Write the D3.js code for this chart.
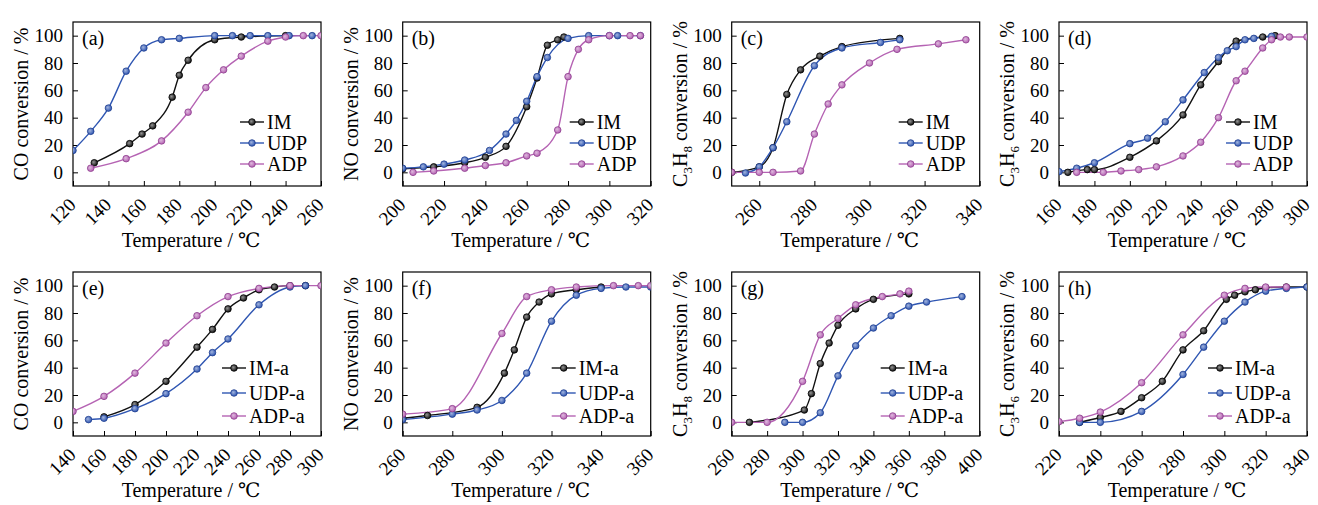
<!DOCTYPE html>
<html><head><meta charset="utf-8">
<script src="https://cdn.jsdelivr.net/npm/d3@7"></script>
<style>
body{margin:0;background:#fff}
svg{display:block}
svg text{font-family:"Liberation Serif","Times New Roman",Tinos,"DejaVu Serif",serif !important;fill:#000}
</style>
</head><body><svg id="c" width="1318" height="505" font-family="Liberation Serif, Times New Roman, DejaVu Serif, serif"></svg>
<script>
// ---------- data (temperature °C, conversion %) ----------
const a_IM  = [[132,7],[152,21],[159,28],[165,34],[176,55],[180,71],[185,82],[200,97],[215,99],[240,100]];
const a_UDP = [[120,16],[130,30],[140,47],[150,74],[160,91],[170,97],[180,98],[200,100],[210,100],[220,100],[230,100],[242,100],[255,100]];
const a_ADP = [[130,3],[150,10],[170,23],[185,44],[195,62],[205,75],[215,85],[230,96],[240,99],[250,100],[260,100]];

const b_IM  = [[200,2.5],[215,4],[230,7],[240,11],[250,19],[260,48],[265,69],[270,93],[275,97],[278,99]];
const b_UDP = [[200,3],[210,4],[220,6],[230,9],[242,16],[250,28],[255,38],[260,52],[265,70],[270,84],[280,98],[290,100],[300,100],[304,100],[315,100]];
const b_ADP = [[205,0],[215,1],[230,3],[240,5],[250,7],[260,12],[265,14],[275,31],[280,70],[285,90],[290,97],[300,100],[310,100],[315,100]];

const c_IM  = [[250,0],[260,4],[265,18],[270,57],[275,75],[282,85],[290,92],[311,98]];
const c_UDP = [[255,-0.5],[260,4],[265,18],[270,37],[280,78],[290,91],[304,95],[311,97]];
const c_ADP = [[250,0],[260,0],[265,0],[275,1],[280,28],[285,50],[290,64],[300,80],[310,90],[325,94],[335,97]];

const d_IM  = [[165,0],[176,2],[180,2],[200,11],[215,23],[230,42],[240,64],[250,81],[260,96],[275,99],[282,100]];
const d_UDP = [[160,0.5],[170,3],[180,7],[200,21],[210,25],[220,37],[230,53],[242,73],[250,84],[255,89],[260,92],[265,97],[270,98],[280,99.5]];
const d_ADP = [[170,0],[185,0],[195,1],[205,2],[215,4],[230,12],[240,22],[250,40],[260,67],[265,74],[275,91],[280,97],[285,99],[290,99],[300,99]];

const e_IM  = [[160,4],[180,13],[200,30],[220,55],[230,68],[240,83],[250,91],[260,97],[270,99],[280,100],[290,100]];
const e_UDP = [[150,2],[160,3],[180,10],[200,21],[220,39],[230,51],[240,61],[260,86],[280,99],[290,100]];
const e_ADP = [[140,8],[160,19],[180,36],[200,58],[220,78],[240,92],[260,98],[280,100],[300,100]];

const f_IM  = [[260,3],[270,5],[290,11],[301,36],[305,53],[310,77],[315,88],[320,94],[330,97],[340,99]];
const f_UDP = [[260,2],[280,6],[290,9],[300,16],[310,36],[320,74],[330,93],[340,98],[350,99],[360,99]];
const f_ADP = [[260,6],[280,10],[300,65],[310,92],[320,97],[330,99],[345,100],[355,100],[360,100]];

const g_IM  = [[270,0],[301,9],[305,21],[310,43],[315,58],[320,71],[330,83],[340,90],[360,94]];
const g_UDP = [[290,0],[300,0],[310,7],[320,34],[330,56],[340,69],[350,78],[360,85],[370,88],[390,92]];
const g_ADP = [[260,0],[280,0],[300,30],[310,64],[320,76],[330,86],[345,92],[355,94],[360,96]];

const h_IM  = [[230,0],[240,3.5],[250,8],[260,18],[270,30],[280,53],[290,67],[301,90],[305,93],[310,95.5],[315,97],[320,98.5],[330,99],[340,99]];
const h_UDP = [[230,0],[240,0],[260,8],[280,35],[290,55],[300,74],[310,88],[320,96],[330,98],[340,99]];
const h_ADP = [[220,0.5],[230,3],[240,7.5],[260,29],[280,64],[300,93],[310,98],[320,99],[330,99]];

// tick labels
const yTicks = [0,20,40,60,80,100];
const xTicks_a = [120,140,160,180,200,220,240,260];
const xTicks_b = [200,220,240,260,280,300,320];
const xTicks_c = [260,280,300,320,340];
const xTicks_d = [160,180,200,220,240,260,280,300];
const xTicks_e = [140,160,180,200,220,240,260,280,300];
const xTicks_f = [260,280,300,320,340,360];
const xTicks_g = [260,280,300,320,340,360,380,400];
const xTicks_h = [220,240,260,280,300,320,340];

const namesTop = ["IM","UDP","ADP"];
const namesBot = ["IM-a","UDP-a","ADP-a"];
const colors = ["#111111","#2f56b2","#b563b3"];
const strokeCol = ["#000000","#1f3f8f","#8f3f8f"];

// ---------- layout ----------
const svg = d3.select("#c");
const W = 248, H = 164;
const colX = [73, 402.7, 731.7, 1059];
const rowY = [22, 272];
const FONT = "Liberation Serif, Times New Roman, DejaVu Serif, serif";

const defs = svg.append("defs");
colors.forEach((c,i)=>{
  const g = defs.append("radialGradient").attr("id","mg"+i).attr("cx","40%").attr("cy","40%").attr("r","60%");
  g.append("stop").attr("offset","0%").attr("stop-color", d3.interpolateRgb(c,"#ffffff")(0.55));
  g.append("stop").attr("offset","100%").attr("stop-color", c);
});

const panels = [
  {L:"(a)", dom:[120,260], ticks:xTicks_a, ser:[a_IM,a_UDP,a_ADP], yl:["CO"], r:0,c:0},
  {L:"(b)", dom:[200,320], ticks:xTicks_b, ser:[b_IM,b_UDP,b_ADP], yl:["NO"], r:0,c:1},
  {L:"(c)", dom:[250,340], ticks:xTicks_c, ser:[c_IM,c_UDP,c_ADP], yl:["C","3","H","8"], r:0,c:2},
  {L:"(d)", dom:[160,300], ticks:xTicks_d, ser:[d_IM,d_UDP,d_ADP], yl:["C","3","H","6"], r:0,c:3},
  {L:"(e)", dom:[140,300], ticks:xTicks_e, ser:[e_IM,e_UDP,e_ADP], yl:["CO"], r:1,c:0},
  {L:"(f)", dom:[260,360], ticks:xTicks_f, ser:[f_IM,f_UDP,f_ADP], yl:["NO"], r:1,c:1},
  {L:"(g)", dom:[260,400], ticks:xTicks_g, ser:[g_IM,g_UDP,g_ADP], yl:["C","3","H","8"], r:1,c:2},
  {L:"(h)", dom:[220,340], ticks:xTicks_h, ser:[h_IM,h_UDP,h_ADP], yl:["C","3","H","6"], r:1,c:3},
];

const FS = 19;

panels.forEach((p,pi)=>{
  const x0 = colX[p.c], y0 = rowY[p.r];
  const g = svg.append("g").attr("transform",`translate(${x0},${y0})`).attr("font-family",FONT);
  const x = d3.scaleLinear().domain(p.dom).range([0,W]);
  const y = d3.scaleLinear().domain([-10,110]).range([H,0]);

  const cid = "clip"+pi;
  defs.append("clipPath").attr("id",cid).append("rect").attr("width",W).attr("height",H);

  // axes (inward ticks)
  const yAx = g.append("g").call(d3.axisLeft(y).tickValues(yTicks).tickSize(-5).tickPadding(10)).attr("font-family",FONT);
  const xAx = g.append("g").attr("transform",`translate(0,${H})`)
      .call(d3.axisBottom(x).tickValues(p.ticks).tickSize(-5).tickFormat(""));
  [yAx,xAx].forEach(a=>{ a.select(".domain").remove(); a.selectAll("line").attr("stroke","#000").attr("stroke-width",1); });
  yAx.selectAll("text").attr("font-size",FS).attr("font-family",FONT).attr("fill","#000");
  // rotated x tick labels
  g.append("g").selectAll("text").data(p.ticks).join("text")
    .attr("transform",d=>`translate(${x(d)+4},${H+20}) rotate(-45)`)
    .attr("text-anchor","end").attr("font-size",FS).text(d=>d);

  // frame
  g.append("rect").attr("width",W).attr("height",H).attr("fill","none").attr("stroke","#000").attr("stroke-width",1.2);

  // series
  const line = d3.line().x(d=>x(d[0])).y(d=>y(d[1])).curve(d3.curveMonotoneX);
  const plot = g.append("g").attr("clip-path",`url(#${cid})`);
  p.ser.forEach((s,si)=>{
    plot.append("path").datum(s).attr("d",line).attr("fill","none")
      .attr("stroke",colors[si]).attr("stroke-width",1.4);
  });
  p.ser.forEach((s,si)=>{
    plot.append("g").selectAll("circle").data(s).join("circle")
      .attr("cx",d=>x(d[0])).attr("cy",d=>y(d[1])).attr("r",3.3)
      .attr("fill",`url(#mg${si})`).attr("stroke",strokeCol[si]).attr("stroke-width",0.8);
  });

  // panel letter
  g.append("text").attr("x",9).attr("y",23).attr("font-size",FS+1).text(p.L);

  // legend
  const names = p.r===0 ? namesTop : namesBot;
  const lx0 = p.r===0 ? 167 : 149;
  const ly = p.r===0 ? [100,121,142] : [96,121,144];
  names.forEach((n,i)=>{
    g.append("line").attr("x1",lx0).attr("x2",lx0+24).attr("y1",ly[i]).attr("y2",ly[i])
      .attr("stroke",colors[i]).attr("stroke-width",1.4);
    g.append("circle").attr("cx",lx0+12).attr("cy",ly[i]).attr("r",3.3)
      .attr("fill",`url(#mg${i})`).attr("stroke",strokeCol[i]).attr("stroke-width",0.8);
    g.append("text").attr("x",lx0+27).attr("y",ly[i]).attr("dy","0.35em").attr("font-size",FS+1).text(n);
  });

  // y title
  const yt = g.append("text").attr("transform",`translate(-45,${H/2}) rotate(-90)`)
    .attr("text-anchor","middle").attr("font-size",FS+1);
  if (p.yl.length===1) {
    yt.text(p.yl[0]+" conversion / %");
  } else {
    yt.append("tspan").text(p.yl[0]);
    yt.append("tspan").attr("font-size",13).attr("dy",5).text(p.yl[1]);
    yt.append("tspan").attr("dy",-5).text(p.yl[2]);
    yt.append("tspan").attr("font-size",13).attr("dy",5).text(p.yl[3]);
    yt.append("tspan").attr("dy",-5).text(" conversion / %");
  }

  // x title
  g.append("text").attr("x",W/2-6).attr("y",H+61).attr("text-anchor","middle")
    .attr("font-size",FS+1).text("Temperature / ℃");
});
</script></body></html>
